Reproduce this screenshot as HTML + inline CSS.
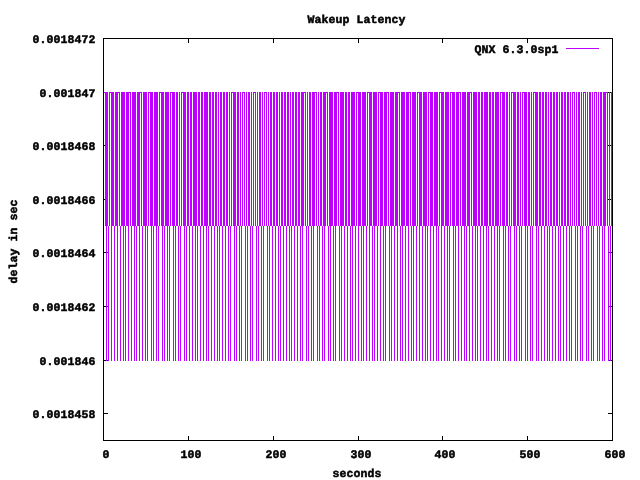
<!DOCTYPE html>
<html><head><meta charset="utf-8"><title>Wakeup Latency</title>
<style>
html,body{margin:0;padding:0;background:#fff;width:640px;height:480px;overflow:hidden}
svg{display:block;position:absolute;left:0;top:0}
text{font-family:"Liberation Mono",monospace;font-weight:bold;font-size:11.5px;letter-spacing:0.1000px;fill:#000;stroke:#000;stroke-width:0.5px;text-rendering:geometricPrecision}
</style></head><body>
<svg width="640" height="480" viewBox="0 0 640 480" shape-rendering="crispEdges">
<path fill="none" stroke="#000" stroke-width="1" d="M188.5 440v-4M188.5 39v4M273.5 440v-4M273.5 39v4M358.5 440v-4M358.5 39v4M442.5 440v-4M442.5 39v4M527.5 440v-4M527.5 39v4M104 92.5h4M612 92.5h-4M104 145.5h4M612 145.5h-4M104 199.5h4M612 199.5h-4M104 252.5h4M612 252.5h-4M104 306.5h4M612 306.5h-4M104 360.5h4M612 360.5h-4M104 413.5h4M612 413.5h-4"/>
<path fill="#c000ff" d="M103 92h2v1h-2zM105 92h1v134h-1zM106 92h1v269h-1zM107 92h1v134h-1zM108 226h1v135h-1zM109 92h1v134h-1zM110 92h1v1h-1zM111 92h1v269h-1zM112 92h2v134h-2zM114 226h1v135h-1zM115 92h2v134h-2zM117 92h1v269h-1zM118 92h1v1h-1zM119 92h1v134h-1zM120 226h1v135h-1zM121 92h2v134h-2zM123 92h1v269h-1zM124 92h1v134h-1zM125 226h1v135h-1zM126 92h2v134h-2zM128 92h1v269h-1zM129 92h1v1h-1zM130 92h1v134h-1zM131 226h1v135h-1zM132 92h2v134h-2zM134 92h1v269h-1zM135 92h1v134h-1zM136 226h1v135h-1zM137 92h2v134h-2zM139 92h1v269h-1zM140 92h1v1h-1zM141 92h1v134h-1zM142 226h1v135h-1zM143 92h2v134h-2zM145 92h1v269h-1zM146 92h1v134h-1zM147 226h1v135h-1zM148 92h1v134h-1zM149 92h1v1h-1zM150 92h1v134h-1zM151 92h1v269h-1zM152 92h1v134h-1zM153 226h1v135h-1zM154 92h2v134h-2zM156 92h1v269h-1zM157 92h1v134h-1zM158 226h1v135h-1zM159 92h1v134h-1zM160 92h1v1h-1zM161 92h1v134h-1zM162 92h1v269h-1zM163 92h1v134h-1zM164 226h1v135h-1zM165 92h2v134h-2zM167 92h1v269h-1zM168 92h1v134h-1zM169 226h1v135h-1zM170 92h1v134h-1zM171 92h1v1h-1zM172 92h1v134h-1zM173 92h1v269h-1zM174 92h1v134h-1zM175 226h1v135h-1zM176 92h2v134h-2zM178 226h1v135h-1zM179 92h1v134h-1zM180 226h1v135h-1zM181 92h1v134h-1zM182 92h1v1h-1zM183 92h1v134h-1zM184 92h1v269h-1zM185 92h1v134h-1zM186 226h1v135h-1zM187 92h2v134h-2zM189 226h1v135h-1zM190 92h2v134h-2zM192 226h1v135h-1zM193 92h2v134h-2zM195 92h1v269h-1zM196 92h1v134h-1zM197 226h1v135h-1zM198 92h2v134h-2zM200 226h1v135h-1zM201 92h2v134h-2zM203 226h1v135h-1zM204 92h2v134h-2zM206 92h1v269h-1zM207 92h1v134h-1zM208 226h1v135h-1zM209 92h2v134h-2zM211 226h1v135h-1zM212 92h2v134h-2zM214 226h1v135h-1zM215 92h2v134h-2zM217 226h1v135h-1zM218 92h1v134h-1zM219 226h1v135h-1zM220 92h2v134h-2zM222 226h1v135h-1zM223 92h2v134h-2zM225 226h1v135h-1zM226 92h2v134h-2zM228 226h1v135h-1zM229 92h1v134h-1zM230 226h1v135h-1zM231 92h1v134h-1zM232 92h1v1h-1zM233 92h1v134h-1zM234 92h1v269h-1zM235 92h1v134h-1zM236 226h1v135h-1zM237 92h2v134h-2zM239 226h1v135h-1zM240 92h1v134h-1zM241 226h1v135h-1zM242 92h1v134h-1zM243 92h1v1h-1zM244 92h1v134h-1zM245 226h1v135h-1zM246 92h1v134h-1zM247 226h1v135h-1zM248 92h2v134h-2zM250 226h1v135h-1zM251 92h1v134h-1zM252 226h1v135h-1zM253 92h1v134h-1zM254 92h1v1h-1zM255 92h1v134h-1zM256 226h1v135h-1zM257 92h1v134h-1zM258 226h1v135h-1zM259 92h2v134h-2zM261 226h1v135h-1zM262 92h1v134h-1zM263 226h1v135h-1zM264 92h1v134h-1zM265 92h1v1h-1zM266 92h1v134h-1zM267 226h1v135h-1zM268 92h1v134h-1zM269 226h1v135h-1zM270 92h2v134h-2zM272 226h1v135h-1zM273 92h2v134h-2zM275 226h1v135h-1zM276 92h2v134h-2zM278 226h1v135h-1zM279 92h1v134h-1zM280 226h1v135h-1zM281 92h2v134h-2zM283 226h1v135h-1zM284 92h2v134h-2zM286 226h1v135h-1zM287 92h2v134h-2zM289 226h1v135h-1zM290 92h1v134h-1zM291 226h1v135h-1zM292 92h2v134h-2zM294 226h1v135h-1zM295 92h2v134h-2zM297 226h1v135h-1zM298 92h2v134h-2zM300 226h1v135h-1zM301 92h1v134h-1zM302 92h1v269h-1zM303 92h1v134h-1zM304 92h1v1h-1zM305 92h1v134h-1zM306 226h1v135h-1zM307 92h1v134h-1zM308 226h1v135h-1zM309 92h2v134h-2zM311 226h1v135h-1zM312 92h1v134h-1zM313 92h1v269h-1zM314 92h1v134h-1zM315 92h1v1h-1zM316 92h1v134h-1zM317 226h1v135h-1zM318 92h1v134h-1zM319 226h1v135h-1zM320 92h2v134h-2zM322 226h1v135h-1zM323 92h1v134h-1zM324 92h1v269h-1zM325 92h1v134h-1zM326 92h1v1h-1zM327 92h1v134h-1zM328 226h1v135h-1zM329 92h1v134h-1zM330 92h1v269h-1zM331 92h2v134h-2zM333 226h1v135h-1zM334 92h1v134h-1zM335 92h1v269h-1zM336 92h1v134h-1zM337 92h1v1h-1zM338 92h1v134h-1zM339 226h1v135h-1zM340 92h1v134h-1zM341 92h1v269h-1zM342 92h2v134h-2zM344 226h1v135h-1zM345 92h2v134h-2zM347 226h1v135h-1zM348 92h2v134h-2zM350 226h1v135h-1zM351 92h1v134h-1zM352 92h1v269h-1zM353 92h2v134h-2zM355 226h1v135h-1zM356 92h1v134h-1zM357 92h1v1h-1zM358 92h1v269h-1zM359 92h2v134h-2zM361 226h1v135h-1zM362 92h1v134h-1zM363 92h1v269h-1zM364 92h2v134h-2zM366 226h1v135h-1zM367 92h1v134h-1zM368 92h1v1h-1zM369 92h1v269h-1zM370 92h2v134h-2zM372 226h1v135h-1zM373 92h1v134h-1zM374 92h1v269h-1zM375 92h2v134h-2zM377 226h1v135h-1zM378 92h1v134h-1zM379 92h1v1h-1zM380 92h1v269h-1zM381 92h2v134h-2zM383 226h1v135h-1zM384 92h1v134h-1zM385 92h1v269h-1zM386 92h1v134h-1zM387 92h1v1h-1zM388 92h1v134h-1zM389 226h1v135h-1zM390 92h1v134h-1zM391 92h1v269h-1zM392 92h2v134h-2zM394 226h1v135h-1zM395 92h2v134h-2zM397 92h1v269h-1zM398 92h1v1h-1zM399 92h1v134h-1zM400 226h1v135h-1zM401 92h1v134h-1zM402 92h1v269h-1zM403 92h2v134h-2zM405 226h1v135h-1zM406 92h2v134h-2zM408 92h1v269h-1zM409 92h1v1h-1zM410 92h1v134h-1zM411 226h1v135h-1zM412 92h1v134h-1zM413 92h1v269h-1zM414 92h2v134h-2zM416 226h1v135h-1zM417 92h1v134h-1zM418 92h1v1h-1zM419 92h1v269h-1zM420 92h2v134h-2zM422 226h1v135h-1zM423 92h2v134h-2zM425 92h1v269h-1zM426 92h1v134h-1zM427 226h1v135h-1zM428 92h1v134h-1zM429 92h1v1h-1zM430 92h1v269h-1zM431 92h2v134h-2zM433 226h1v135h-1zM434 92h2v134h-2zM436 92h1v269h-1zM437 92h1v134h-1zM438 226h1v135h-1zM439 92h1v134h-1zM440 92h1v1h-1zM441 92h1v269h-1zM442 92h2v134h-2zM444 226h1v135h-1zM445 92h2v134h-2zM447 92h1v269h-1zM448 92h1v134h-1zM449 226h1v135h-1zM450 92h1v134h-1zM451 92h1v1h-1zM452 92h1v134h-1zM453 92h1v269h-1zM454 92h1v134h-1zM455 226h1v135h-1zM456 92h2v134h-2zM458 92h1v269h-1zM459 92h1v1h-1zM460 92h1v134h-1zM461 226h1v135h-1zM462 92h2v134h-2zM464 92h1v269h-1zM465 92h1v134h-1zM466 226h1v135h-1zM467 92h2v134h-2zM469 92h1v269h-1zM470 92h1v1h-1zM471 92h1v134h-1zM472 226h1v135h-1zM473 92h2v134h-2zM475 92h1v269h-1zM476 92h1v134h-1zM477 226h1v135h-1zM478 92h2v134h-2zM480 226h1v135h-1zM481 92h2v134h-2zM483 226h1v135h-1zM484 92h2v134h-2zM486 92h1v269h-1zM487 92h1v134h-1zM488 226h1v135h-1zM489 92h2v134h-2zM491 226h1v135h-1zM492 92h2v134h-2zM494 226h1v135h-1zM495 92h2v134h-2zM497 92h1v269h-1zM498 92h1v134h-1zM499 226h1v135h-1zM500 92h1v134h-1zM501 92h1v1h-1zM502 92h1v134h-1zM503 92h1v269h-1zM504 92h1v134h-1zM505 226h1v135h-1zM506 92h2v134h-2zM508 226h1v135h-1zM509 92h1v134h-1zM510 226h1v135h-1zM511 92h1v134h-1zM512 92h1v1h-1zM513 92h1v134h-1zM514 92h1v269h-1zM515 92h1v134h-1zM516 226h1v135h-1zM517 92h2v134h-2zM519 226h1v135h-1zM520 92h1v134h-1zM521 226h1v135h-1zM522 92h1v134h-1zM523 92h1v1h-1zM524 92h1v134h-1zM525 92h1v269h-1zM526 92h1v134h-1zM527 226h1v135h-1zM528 92h2v134h-2zM530 226h1v135h-1zM531 92h1v134h-1zM532 226h1v135h-1zM533 92h1v134h-1zM534 92h1v1h-1zM535 92h1v134h-1zM536 92h1v269h-1zM537 92h1v134h-1zM538 226h1v135h-1zM539 92h2v134h-2zM541 226h1v135h-1zM542 92h2v134h-2zM544 226h1v135h-1zM545 92h2v134h-2zM547 226h1v135h-1zM548 92h1v134h-1zM549 226h1v135h-1zM550 92h2v134h-2zM552 226h1v135h-1zM553 92h2v134h-2zM555 226h1v135h-1zM556 92h2v134h-2zM558 226h1v135h-1zM559 92h1v134h-1zM560 226h1v135h-1zM561 92h2v134h-2zM563 226h1v135h-1zM564 92h2v134h-2zM566 226h1v135h-1zM567 92h2v134h-2zM569 226h1v135h-1zM570 92h1v134h-1zM571 226h1v135h-1zM572 92h1v134h-1zM573 92h1v1h-1zM574 92h1v134h-1zM575 226h1v135h-1zM576 92h1v134h-1zM577 226h1v135h-1zM578 92h2v134h-2zM580 226h1v135h-1zM581 92h1v134h-1zM582 226h1v135h-1zM583 92h1v134h-1zM584 92h1v1h-1zM585 92h1v134h-1zM586 226h1v135h-1zM587 92h1v134h-1zM588 226h1v135h-1zM589 92h2v134h-2zM591 226h1v135h-1zM592 92h1v134h-1zM593 226h1v135h-1zM594 92h1v134h-1zM595 92h1v1h-1zM596 92h1v134h-1zM597 226h1v135h-1zM598 92h1v134h-1zM599 226h1v135h-1zM600 92h2v134h-2zM602 226h1v135h-1zM603 92h1v134h-1zM604 92h1v269h-1zM605 92h1v134h-1zM606 92h1v1h-1zM607 92h1v134h-1zM608 226h1v135h-1zM609 92h1v134h-1zM610 226h1v135h-1zM611 92h1v134h-1zM612 92h1v1h-1z"/>
<path fill="none" stroke="#000" stroke-width="1" d="M103.5 38.5H612.5V440.5H103.5Z"/>
<path fill="none" stroke="#c000ff" stroke-width="1" d="M566 48.5H599"/>
<text transform="translate(307.5 23) scale(1.0000 1.0000)" text-anchor="start">Wakeup Latency</text>
<text transform="translate(474.5 53) scale(1.0000 1.0000)" text-anchor="start">QNX 6.3.0sp1</text>
<text transform="translate(332.5 477) scale(1.0000 1.0000)" text-anchor="start">seconds</text>
<text transform="translate(32.5 43) scale(1.0000 1.0000)" text-anchor="start">0.0018472</text>
<text transform="translate(39.5 97) scale(1.0000 1.0000)" text-anchor="start">0.001847</text>
<text transform="translate(32.5 150) scale(1.0000 1.0000)" text-anchor="start">0.0018468</text>
<text transform="translate(32.5 204) scale(1.0000 1.0000)" text-anchor="start">0.0018466</text>
<text transform="translate(32.5 257) scale(1.0000 1.0000)" text-anchor="start">0.0018464</text>
<text transform="translate(32.5 311) scale(1.0000 1.0000)" text-anchor="start">0.0018462</text>
<text transform="translate(39.5 365) scale(1.0000 1.0000)" text-anchor="start">0.001846</text>
<text transform="translate(32.5 418) scale(1.0000 1.0000)" text-anchor="start">0.0018458</text>
<text transform="translate(102.5 458) scale(1.0000 1.0000)" text-anchor="start">0</text>
<text transform="translate(180.5 458) scale(1.0000 1.0000)" text-anchor="start">100</text>
<text transform="translate(265.5 458) scale(1.0000 1.0000)" text-anchor="start">200</text>
<text transform="translate(350.5 458) scale(1.0000 1.0000)" text-anchor="start">300</text>
<text transform="translate(434.5 458) scale(1.0000 1.0000)" text-anchor="start">400</text>
<text transform="translate(519.5 458) scale(1.0000 1.0000)" text-anchor="start">500</text>
<text transform="translate(604.5 458) scale(1.0000 1.0000)" text-anchor="start">600</text>
<text transform="translate(17 283.5) rotate(-90) scale(1.0000 1.0000)" text-anchor="start">delay in sec</text>
</svg>
</body></html>
